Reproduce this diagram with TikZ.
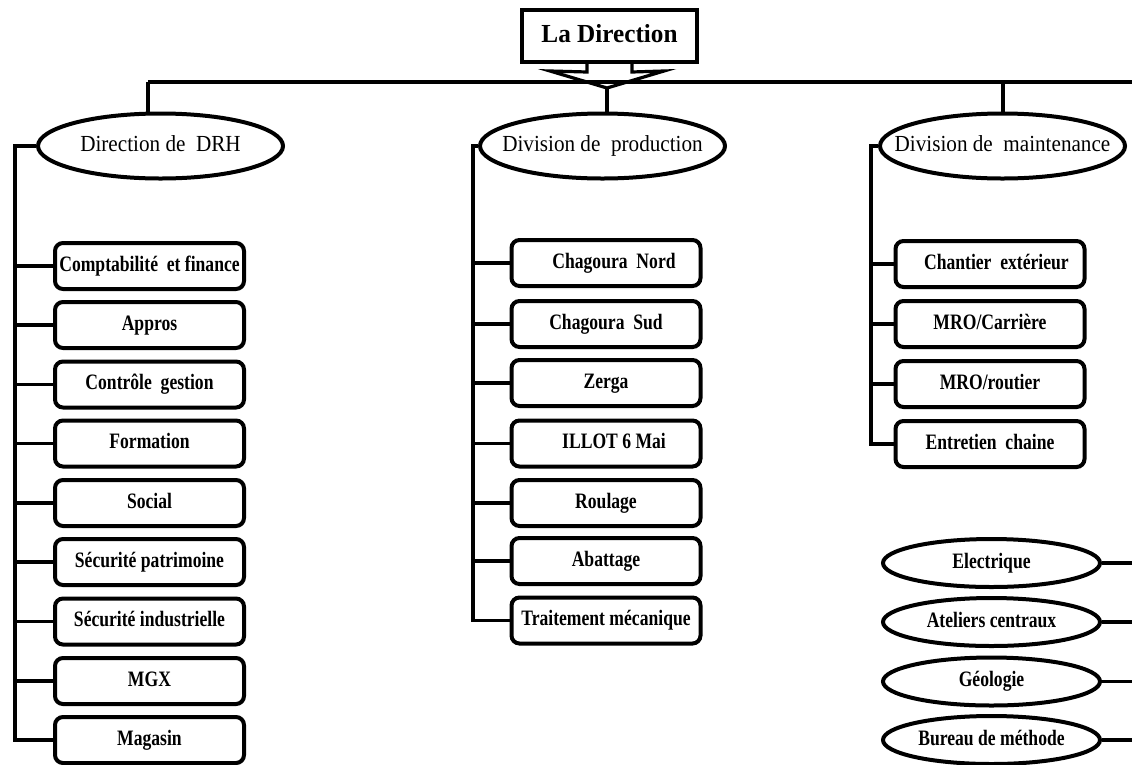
\documentclass[tikz,border=0pt]{standalone}
\usepackage{fontspec}
\setmainfont{Liberation Serif}
\usepackage{graphicx}
\usetikzlibrary{shapes.geometric}
\newcommand\bxt[1]{\scalebox{0.8}[1]{#1}}
\newcommand\elt[1]{\makebox[0pt]{\scalebox{0.92}[1]{#1}}}
\newcommand\svt[1]{\makebox[0pt]{\scalebox{0.8}[1]{#1}}}
\begin{document}
\begin{tikzpicture}[x=1pt,y=-1pt,
 conn/.style={line width=3.6pt, line join=miter},
 unit/.style={draw, line width=4pt, rounded corners=8pt, minimum width=189pt, minimum height=46pt, inner sep=0pt, text height=15pt, text depth=4.5pt, font=\fontsize{22}{24}\selectfont\bfseries},
 division/.style={draw, ellipse, line width=4pt, minimum width=245pt, minimum height=65pt, inner sep=0pt, text height=16pt, text depth=5pt, font=\fontsize{23}{26}\selectfont},
 service/.style={draw, ellipse, line width=4pt, minimum width=217pt, minimum height=48pt, inner sep=0pt, text height=15pt, text depth=4.5pt, font=\fontsize{22}{24}\selectfont\bfseries},
 head/.style={draw, rectangle, line width=4pt, minimum width=175pt, minimum height=52pt, inner sep=0pt, text height=18pt, text depth=5pt, font=\fontsize{26}{28}\selectfont\bfseries}]
\useasboundingbox[fill=white] (0,0) rectangle (1132,764);

% head
\node[head] (dir) at (609.5,36) {\scalebox{0.97}[1]{La Direction}};
\coordinate (tip) at (607,88);
\coordinate (hl) at (148,82);
\coordinate (hr) at (1132,82);
\coordinate (mtop) at (1003,82);
\draw[conn] (hl) -- (hr);
\draw[line width=3.2pt, line join=miter] (587,62) -- (587,72) -- (550,71) -- (tip) -- (664,71) -- (632,72) -- (632,62);

% divisions
\node[division] (drh) at (160.5,146) {\elt{Direction de\ \ DRH}};
\node[division] (prod) at (602.5,146) {\elt{Division\ de\ \ production}};
\node[division] (maint) at (1002.5,146) {\elt{Division\ de\ \ maintenance}};

\draw[conn] (hl) -- (hl |- drh.north);
\draw[conn] (tip) -- (tip |- prod.north);
\draw[conn] (mtop) -- (mtop |- maint.north);

% DRH units
\node[unit] (cf)  at (149.5,266)   {\bxt{Comptabilité\ \ et finance}};
\node[unit] (ap)  at (149.5,325)   {\bxt{Appros}};
\node[unit] (cg)  at (149.5,384.5) {\bxt{Contrôle\ \ gestion}};
\node[unit] (fo)  at (149.5,443.5) {\bxt{Formation}};
\node[unit] (so)  at (149.5,503)   {\bxt{Social}};
\node[unit] (sp)  at (149.5,562)   {\bxt{Sécurité patrimoine}};
\node[unit] (si)  at (149.5,621.5) {\bxt{Sécurité industrielle}};
\node[unit] (mgx) at (149.5,681)   {\bxt{MGX}};
\node[unit] (mag) at (149.5,740)   {\bxt{Magasin}};

% production units
\node[unit] (cn) at (606,263)   {\bxt{\hspace*{20pt}Chagoura\ \ Nord}};
\node[unit] (cs) at (606,324)   {\bxt{Chagoura\ \ Sud}};
\node[unit] (ze) at (606,383)   {\bxt{Zerga}};
\node[unit] (il) at (606,443.5) {\bxt{\hspace*{20pt}ILLOT 6 Mai}};
\node[unit] (ro) at (606,503)   {\bxt{Roulage}};
\node[unit] (ab) at (606,561)   {\bxt{Abattage}};
\node[unit] (tm) at (606,620.5) {\bxt{Traitement mécanique}};

% maintenance units
\node[unit] (ce) at (990,264) {\bxt{\hspace*{16pt}Chantier\ \ extérieur}};
\node[unit] (mc) at (990,324) {\bxt{MRO/Carrière}};
\node[unit] (mr) at (990,384) {\bxt{MRO/routier}};
\node[unit] (ec) at (990,444) {\bxt{Entretien\ \ chaine}};

% services
\node[service] (el) at (991.5,563)   {\svt{Electrique}};
\node[service] (at) at (991.5,622)   {\svt{Ateliers centraux}};
\node[service] (ge) at (991.5,681.5) {\svt{Géologie}};
\node[service] (bm) at (991.5,740)   {\svt{Bureau de méthode}};

% side connectors
\coordinate (lx) at (15,146);
\coordinate (mx) at (473,146);
\coordinate (rx) at (871,146);
\coordinate (ex) at (1132,0);

\draw[conn] (drh.west) -- (lx) -- (lx |- mag.west) -- (mag.west);
\foreach \n in {cf,ap,cg,fo,so,sp,si,mgx} \draw[conn] (lx |- \n.west) -- (\n.west);

\draw[conn] (prod.west) -- (mx) -- (mx |- tm.west) -- (tm.west);
\foreach \n in {cn,cs,ze,il,ro,ab} \draw[conn] (mx |- \n.west) -- (\n.west);

\draw[conn] (maint.west) -- (rx) -- (rx |- ec.west) -- (ec.west);
\foreach \n in {ce,mc,mr} \draw[conn] (rx |- \n.west) -- (\n.west);

\foreach \n in {el,at,ge,bm} \draw[conn] (\n.east) -- (ex |- \n.east);
\end{tikzpicture}
\end{document}
